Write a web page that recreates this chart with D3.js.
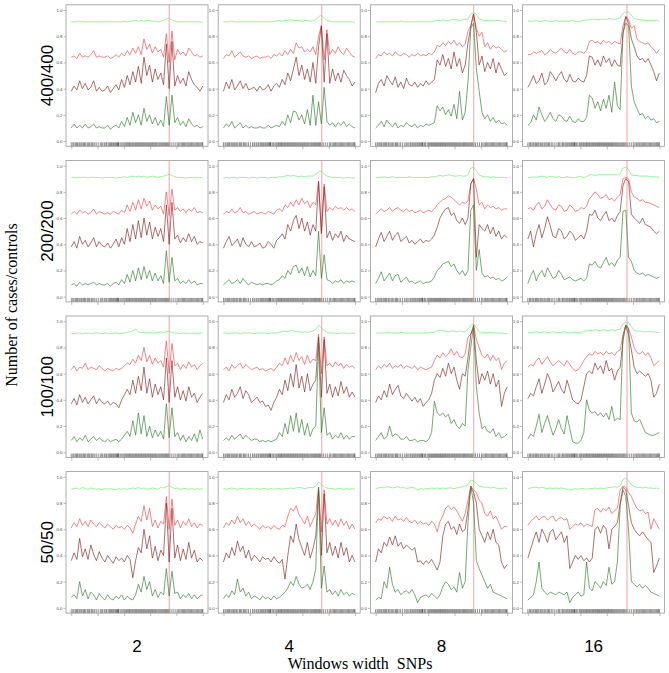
<!DOCTYPE html>
<html>
<head>
<meta charset="utf-8">
<script src="https://cdn.jsdelivr.net/npm/d3@7"></script>
<style>
  body { margin: 0; background: #fff; }
</style>
</head>
<body>
<div id="chart"></div>
<script>
// rows = cases/controls, columns = window width in SNPs
const rowLabels = ["400/400", "200/200", "100/100", "50/50"];
const colLabels = ["2", "4", "8", "16"];
const yTicks = [0, 0.2, 0.4, 0.6, 0.8, 1.0];
const xTicks = [0, 0.2, 0.4, 0.6, 0.8, 1.0];
// position of the causal SNP (vertical line), one per column
const peakPos = [0.745, 0.748, 0.746, 0.754];

// SNP positions for the rug (relative position along the region)
const snpPos = [0.000,0.012,0.020,0.031,0.040,0.047,0.058,0.066,0.075,0.083,0.094,0.101,0.110,0.122,0.130,0.139,0.151,0.158,0.166,0.178,0.190,0.205,0.221,0.232,0.240,0.252,0.263,0.270,0.281,0.290,0.298,0.306,0.315,0.322,0.331,0.338,0.345,0.352,0.356,0.360,0.371,0.380,0.392,0.401,0.409,0.418,0.425,0.433,0.441,0.447,0.455,0.463,0.470,0.478,0.486,0.493,0.500,0.508,0.515,0.523,0.530,0.537,0.545,0.552,0.560,0.567,0.575,0.583,0.590,0.598,0.605,0.613,0.620,0.628,0.636,0.643,0.651,0.660,0.668,0.676,0.684,0.692,0.700,0.708,0.716,0.724,0.731,0.739,0.748,0.760,0.775,0.790,0.805,0.815,0.826,0.836,0.845,0.853,0.862,0.871,0.880,0.889,0.897,0.906,0.915,0.924,0.933,0.942,0.951,0.960,0.969,0.978,0.987,0.995,1.000];

// ---- 400/400 ----
const lg_400_2 = [0.91,0.91,0.91,0.915,0.91,0.91,0.91,0.91,0.91,0.91,0.91,0.91,0.91,0.91,0.91,0.91,0.91,0.91,0.91,0.915,0.91,0.915,0.915,0.92,0.915,0.92,0.915,0.92,0.92,0.915,0.915,0.91,0.915,0.92,0.93,0.94,0.925,0.915,0.91,0.91,0.91,0.91,0.91,0.91,0.91,0.91,0.91,0.905];
const rd_400_2 = [0.64,0.65,0.63,0.67,0.64,0.65,0.64,0.66,0.69,0.64,0.65,0.64,0.64,0.65,0.63,0.64,0.66,0.64,0.67,0.65,0.69,0.66,0.71,0.67,0.72,0.66,0.78,0.7,0.74,0.67,0.72,0.68,0.7,0.64,0.82,0.6,0.84,0.62,0.7,0.66,0.68,0.65,0.71,0.68,0.65,0.66,0.64,0.65];
const dr_400_2 = [0.38,0.42,0.39,0.46,0.4,0.44,0.39,0.41,0.46,0.38,0.41,0.38,0.39,0.42,0.37,0.4,0.43,0.39,0.47,0.41,0.5,0.43,0.53,0.45,0.57,0.44,0.64,0.5,0.58,0.45,0.55,0.47,0.52,0.43,0.74,0.4,0.76,0.42,0.5,0.44,0.48,0.42,0.53,0.47,0.43,0.41,0.38,0.42];
const dg_400_2 = [0.1,0.13,0.1,0.12,0.1,0.13,0.1,0.11,0.13,0.1,0.11,0.1,0.1,0.12,0.09,0.11,0.12,0.1,0.15,0.11,0.18,0.12,0.22,0.14,0.2,0.12,0.25,0.15,0.2,0.13,0.18,0.12,0.16,0.11,0.34,0.12,0.35,0.14,0.18,0.12,0.15,0.11,0.17,0.13,0.11,0.12,0.1,0.11];

const lg_400_4 = [0.91,0.91,0.91,0.915,0.91,0.91,0.91,0.91,0.91,0.91,0.91,0.91,0.91,0.91,0.91,0.91,0.91,0.91,0.915,0.915,0.92,0.915,0.92,0.92,0.925,0.92,0.92,0.92,0.915,0.92,0.92,0.915,0.92,0.925,0.95,0.96,0.94,0.92,0.915,0.91,0.91,0.91,0.91,0.91,0.91,0.91,0.91,0.905];
const rd_400_4 = [0.63,0.66,0.65,0.69,0.64,0.66,0.68,0.65,0.64,0.65,0.63,0.64,0.65,0.63,0.64,0.64,0.65,0.63,0.66,0.65,0.67,0.65,0.69,0.66,0.7,0.67,0.75,0.71,0.72,0.68,0.7,0.68,0.72,0.66,0.8,0.88,0.62,0.85,0.66,0.7,0.67,0.72,0.68,0.66,0.71,0.68,0.65,0.64];
const dr_400_4 = [0.38,0.45,0.4,0.47,0.39,0.42,0.46,0.4,0.44,0.39,0.4,0.41,0.38,0.42,0.39,0.4,0.43,0.38,0.42,0.44,0.41,0.47,0.43,0.52,0.46,0.55,0.64,0.5,0.58,0.47,0.55,0.45,0.6,0.44,0.72,0.88,0.45,0.82,0.44,0.55,0.46,0.52,0.45,0.54,0.5,0.47,0.42,0.45];
const dg_400_4 = [0.1,0.13,0.11,0.15,0.1,0.12,0.14,0.1,0.12,0.1,0.11,0.1,0.1,0.11,0.1,0.1,0.12,0.1,0.11,0.12,0.11,0.15,0.12,0.2,0.14,0.23,0.22,0.16,0.2,0.13,0.24,0.12,0.35,0.12,0.3,0.13,0.41,0.15,0.12,0.14,0.11,0.14,0.12,0.15,0.11,0.13,0.11,0.1];

const lg_400_8 = [0.91,0.91,0.91,0.91,0.91,0.91,0.91,0.91,0.91,0.915,0.91,0.91,0.91,0.91,0.91,0.91,0.91,0.91,0.91,0.91,0.91,0.915,0.92,0.92,0.925,0.92,0.92,0.925,0.93,0.925,0.92,0.925,0.93,0.93,0.97,0.98,0.97,0.93,0.925,0.92,0.92,0.92,0.915,0.92,0.92,0.915,0.915,0.91];
const rd_400_8 = [0.63,0.66,0.65,0.68,0.66,0.67,0.65,0.68,0.66,0.65,0.67,0.66,0.64,0.66,0.65,0.67,0.65,0.66,0.65,0.67,0.66,0.68,0.73,0.72,0.75,0.73,0.76,0.74,0.77,0.73,0.75,0.72,0.74,0.84,0.88,0.97,0.86,0.8,0.83,0.72,0.75,0.7,0.73,0.71,0.72,0.7,0.68,0.69];
const dr_400_8 = [0.37,0.44,0.47,0.42,0.5,0.46,0.43,0.49,0.41,0.45,0.4,0.48,0.43,0.42,0.45,0.41,0.44,0.42,0.46,0.43,0.45,0.47,0.62,0.58,0.66,0.57,0.63,0.55,0.68,0.57,0.63,0.52,0.58,0.75,0.87,0.97,0.83,0.58,0.65,0.53,0.6,0.55,0.63,0.52,0.6,0.55,0.5,0.52];
const dg_400_8 = [0.1,0.12,0.15,0.11,0.16,0.13,0.11,0.14,0.1,0.12,0.11,0.14,0.12,0.11,0.13,0.1,0.12,0.11,0.13,0.12,0.13,0.14,0.27,0.23,0.26,0.2,0.24,0.19,0.28,0.17,0.38,0.16,0.22,0.45,0.86,0.9,0.55,0.38,0.22,0.17,0.2,0.15,0.18,0.14,0.16,0.13,0.14,0.12];

const lg_400_16 = [0.915,0.915,0.915,0.92,0.915,0.915,0.92,0.915,0.915,0.915,0.92,0.915,0.915,0.915,0.915,0.915,0.92,0.915,0.915,0.915,0.92,0.925,0.925,0.93,0.93,0.925,0.93,0.93,0.93,0.935,0.93,0.93,0.935,0.94,0.975,0.985,0.985,0.96,0.935,0.93,0.925,0.925,0.92,0.92,0.92,0.92,0.92,0.915];
const rd_400_16 = [0.66,0.66,0.68,0.67,0.68,0.69,0.66,0.67,0.7,0.68,0.67,0.69,0.71,0.68,0.67,0.7,0.67,0.66,0.68,0.68,0.67,0.69,0.76,0.77,0.75,0.76,0.74,0.77,0.75,0.76,0.74,0.76,0.75,0.74,0.88,0.95,0.93,0.86,0.88,0.78,0.76,0.75,0.74,0.75,0.72,0.7,0.67,0.7];
const dr_400_16 = [0.41,0.45,0.5,0.44,0.46,0.52,0.43,0.45,0.53,0.5,0.46,0.5,0.53,0.47,0.45,0.51,0.46,0.45,0.48,0.46,0.45,0.5,0.65,0.64,0.58,0.62,0.57,0.65,0.6,0.63,0.57,0.62,0.58,0.57,0.82,0.95,0.9,0.78,0.72,0.65,0.62,0.63,0.6,0.63,0.58,0.53,0.46,0.52];
const dg_400_16 = [0.12,0.14,0.2,0.16,0.26,0.2,0.15,0.18,0.22,0.17,0.15,0.2,0.19,0.16,0.15,0.19,0.15,0.14,0.17,0.15,0.15,0.18,0.35,0.33,0.25,0.3,0.23,0.32,0.25,0.35,0.22,0.45,0.27,0.24,0.82,0.9,0.88,0.42,0.3,0.25,0.2,0.21,0.17,0.19,0.16,0.17,0.14,0.15];

// ---- 200/200 ----
const lg_200_2 = [0.91,0.91,0.905,0.91,0.91,0.91,0.905,0.91,0.91,0.91,0.91,0.905,0.91,0.91,0.91,0.91,0.905,0.91,0.91,0.915,0.91,0.915,0.92,0.915,0.92,0.915,0.92,0.91,0.915,0.92,0.915,0.91,0.915,0.92,0.925,0.935,0.925,0.915,0.91,0.91,0.91,0.905,0.91,0.91,0.91,0.905,0.91,0.905];
const rd_200_2 = [0.63,0.65,0.63,0.66,0.64,0.65,0.63,0.64,0.67,0.63,0.65,0.64,0.63,0.64,0.63,0.65,0.64,0.63,0.66,0.64,0.7,0.65,0.72,0.66,0.74,0.67,0.75,0.69,0.73,0.66,0.7,0.67,0.69,0.63,0.8,0.62,0.82,0.66,0.68,0.65,0.67,0.64,0.67,0.65,0.68,0.64,0.65,0.64];
const dr_200_2 = [0.38,0.42,0.37,0.46,0.4,0.43,0.38,0.41,0.45,0.38,0.42,0.39,0.38,0.41,0.37,0.4,0.44,0.38,0.45,0.4,0.52,0.42,0.55,0.44,0.58,0.45,0.6,0.47,0.57,0.44,0.53,0.46,0.52,0.42,0.7,0.4,0.72,0.44,0.47,0.41,0.45,0.42,0.48,0.42,0.46,0.4,0.42,0.41];
const dg_200_2 = [0.09,0.1,0.08,0.11,0.09,0.1,0.09,0.1,0.11,0.09,0.1,0.09,0.09,0.1,0.08,0.1,0.11,0.09,0.13,0.1,0.17,0.11,0.2,0.12,0.22,0.13,0.23,0.14,0.2,0.12,0.18,0.12,0.16,0.1,0.35,0.11,0.3,0.12,0.14,0.1,0.12,0.1,0.13,0.1,0.12,0.09,0.1,0.1];

const lg_200_4 = [0.905,0.91,0.905,0.91,0.91,0.905,0.91,0.91,0.91,0.905,0.91,0.91,0.905,0.91,0.91,0.91,0.905,0.91,0.91,0.91,0.915,0.915,0.92,0.925,0.92,0.925,0.92,0.915,0.92,0.915,0.92,0.92,0.92,0.935,0.95,0.96,0.935,0.92,0.915,0.91,0.91,0.91,0.91,0.905,0.91,0.91,0.905,0.905];
const rd_200_4 = [0.63,0.65,0.64,0.67,0.64,0.65,0.68,0.64,0.65,0.63,0.64,0.65,0.63,0.64,0.64,0.63,0.65,0.64,0.63,0.66,0.67,0.65,0.7,0.68,0.72,0.69,0.74,0.7,0.75,0.71,0.73,0.68,0.72,0.7,0.88,0.5,0.86,0.65,0.68,0.66,0.69,0.67,0.68,0.66,0.68,0.66,0.67,0.65];
const dr_200_4 = [0.37,0.42,0.46,0.39,0.41,0.44,0.38,0.45,0.4,0.38,0.42,0.38,0.39,0.41,0.37,0.38,0.42,0.4,0.37,0.43,0.45,0.48,0.44,0.55,0.5,0.58,0.62,0.52,0.6,0.5,0.57,0.47,0.55,0.5,0.88,0.48,0.84,0.45,0.5,0.43,0.48,0.45,0.5,0.42,0.47,0.44,0.43,0.42];
const dg_200_4 = [0.09,0.11,0.13,0.1,0.11,0.13,0.1,0.14,0.11,0.09,0.11,0.1,0.09,0.1,0.09,0.1,0.1,0.09,0.1,0.12,0.13,0.16,0.14,0.2,0.17,0.23,0.24,0.18,0.22,0.16,0.23,0.15,0.2,0.16,0.5,0.14,0.32,0.13,0.12,0.1,0.12,0.11,0.13,0.1,0.12,0.11,0.12,0.11];

const lg_200_8 = [0.91,0.91,0.91,0.915,0.91,0.91,0.915,0.91,0.91,0.91,0.91,0.91,0.915,0.91,0.91,0.91,0.91,0.91,0.91,0.91,0.915,0.915,0.92,0.925,0.92,0.925,0.93,0.925,0.92,0.92,0.925,0.92,0.92,0.93,0.98,0.99,0.96,0.93,0.92,0.915,0.915,0.91,0.915,0.91,0.91,0.91,0.91,0.905];
const rd_200_8 = [0.63,0.65,0.67,0.65,0.66,0.68,0.65,0.67,0.68,0.66,0.65,0.67,0.65,0.66,0.64,0.65,0.66,0.64,0.65,0.66,0.65,0.67,0.7,0.72,0.74,0.75,0.77,0.76,0.74,0.72,0.7,0.72,0.71,0.73,0.86,0.9,0.82,0.7,0.72,0.67,0.7,0.68,0.69,0.67,0.68,0.66,0.67,0.67];
const dr_200_8 = [0.38,0.44,0.49,0.42,0.46,0.5,0.43,0.47,0.49,0.42,0.44,0.46,0.41,0.43,0.4,0.42,0.44,0.41,0.43,0.42,0.44,0.47,0.53,0.6,0.64,0.67,0.68,0.62,0.64,0.58,0.56,0.6,0.55,0.6,0.86,0.9,0.3,0.55,0.52,0.5,0.55,0.48,0.53,0.46,0.5,0.44,0.47,0.45];
const dg_200_8 = [0.1,0.14,0.19,0.12,0.15,0.18,0.12,0.16,0.17,0.11,0.13,0.15,0.11,0.12,0.1,0.11,0.12,0.1,0.11,0.11,0.12,0.15,0.2,0.22,0.25,0.26,0.27,0.23,0.25,0.2,0.17,0.2,0.16,0.2,0.66,0.7,0.2,0.36,0.18,0.15,0.16,0.14,0.15,0.13,0.14,0.12,0.13,0.15];

const lg_200_16 = [0.91,0.91,0.915,0.91,0.915,0.92,0.915,0.91,0.92,0.915,0.91,0.915,0.91,0.91,0.915,0.91,0.91,0.91,0.915,0.915,0.91,0.915,0.93,0.93,0.925,0.93,0.93,0.935,0.93,0.93,0.935,0.93,0.93,0.94,0.98,0.99,0.97,0.93,0.925,0.925,0.92,0.92,0.92,0.92,0.915,0.915,0.915,0.91];
const rd_200_16 = [0.67,0.68,0.66,0.7,0.72,0.67,0.69,0.74,0.7,0.67,0.66,0.7,0.69,0.65,0.66,0.7,0.68,0.65,0.66,0.68,0.67,0.69,0.75,0.77,0.8,0.78,0.75,0.76,0.78,0.74,0.75,0.73,0.76,0.78,0.9,0.91,0.9,0.8,0.76,0.75,0.73,0.74,0.72,0.72,0.71,0.7,0.69,0.68];
const dr_200_16 = [0.44,0.5,0.38,0.48,0.55,0.45,0.52,0.61,0.54,0.46,0.45,0.52,0.5,0.44,0.46,0.5,0.48,0.43,0.45,0.47,0.44,0.5,0.63,0.62,0.66,0.6,0.58,0.62,0.65,0.58,0.6,0.57,0.62,0.65,0.85,0.9,0.88,0.63,0.6,0.58,0.56,0.6,0.55,0.54,0.53,0.5,0.48,0.5];
const dg_200_16 = [0.1,0.16,0.2,0.12,0.17,0.2,0.15,0.22,0.18,0.14,0.15,0.2,0.17,0.13,0.14,0.15,0.13,0.12,0.13,0.14,0.12,0.14,0.25,0.24,0.27,0.23,0.22,0.26,0.3,0.24,0.26,0.23,0.28,0.3,0.65,0.66,0.3,0.27,0.2,0.18,0.17,0.18,0.16,0.17,0.16,0.15,0.14,0.15];

// ---- 100/100 ----
const lg_100_2 = [0.91,0.905,0.91,0.91,0.905,0.91,0.91,0.905,0.91,0.91,0.91,0.905,0.91,0.91,0.905,0.91,0.91,0.905,0.91,0.91,0.915,0.92,0.925,0.94,0.92,0.915,0.915,0.91,0.915,0.91,0.91,0.915,0.92,0.915,0.92,0.925,0.915,0.91,0.91,0.905,0.91,0.91,0.905,0.91,0.91,0.905,0.91,0.91];
const rd_100_2 = [0.63,0.66,0.62,0.65,0.64,0.68,0.63,0.65,0.64,0.63,0.66,0.64,0.62,0.64,0.63,0.62,0.64,0.63,0.64,0.66,0.68,0.67,0.71,0.68,0.74,0.7,0.8,0.69,0.74,0.67,0.72,0.68,0.7,0.65,0.85,0.6,0.83,0.66,0.68,0.63,0.67,0.64,0.69,0.65,0.67,0.63,0.66,0.68];
const dr_100_2 = [0.37,0.41,0.36,0.44,0.38,0.42,0.37,0.4,0.43,0.37,0.41,0.38,0.37,0.39,0.36,0.38,0.37,0.34,0.4,0.44,0.48,0.44,0.55,0.45,0.58,0.47,0.65,0.45,0.56,0.42,0.52,0.44,0.5,0.4,0.72,0.38,0.7,0.42,0.5,0.4,0.47,0.39,0.5,0.42,0.45,0.38,0.42,0.45];
const dg_100_2 = [0.09,0.12,0.08,0.11,0.09,0.13,0.08,0.1,0.12,0.09,0.11,0.09,0.08,0.1,0.08,0.09,0.1,0.08,0.1,0.13,0.16,0.12,0.24,0.13,0.3,0.14,0.28,0.12,0.2,0.11,0.17,0.12,0.16,0.1,0.37,0.11,0.34,0.12,0.15,0.09,0.13,0.08,0.12,0.09,0.14,0.08,0.17,0.1];

const lg_100_4 = [0.91,0.91,0.905,0.91,0.91,0.91,0.905,0.91,0.91,0.91,0.91,0.905,0.91,0.91,0.91,0.91,0.905,0.91,0.91,0.91,0.915,0.92,0.925,0.92,0.93,0.925,0.92,0.92,0.915,0.92,0.915,0.92,0.925,0.94,0.97,0.95,0.93,0.915,0.91,0.91,0.91,0.905,0.91,0.91,0.91,0.905,0.91,0.905];
const rd_100_4 = [0.63,0.65,0.62,0.67,0.64,0.66,0.68,0.64,0.67,0.65,0.63,0.64,0.65,0.63,0.64,0.62,0.63,0.64,0.62,0.65,0.68,0.66,0.72,0.67,0.74,0.69,0.76,0.7,0.73,0.67,0.74,0.68,0.71,0.7,0.9,0.6,0.88,0.66,0.68,0.65,0.69,0.66,0.68,0.64,0.67,0.65,0.66,0.64];
const dr_100_4 = [0.38,0.44,0.4,0.48,0.42,0.45,0.5,0.41,0.47,0.44,0.38,0.4,0.42,0.38,0.39,0.35,0.36,0.32,0.38,0.42,0.48,0.44,0.55,0.47,0.6,0.5,0.67,0.49,0.58,0.46,0.6,0.47,0.52,0.55,0.88,0.42,0.86,0.45,0.52,0.42,0.5,0.43,0.54,0.45,0.5,0.42,0.46,0.42];
const dg_100_4 = [0.09,0.11,0.09,0.13,0.1,0.12,0.14,0.1,0.13,0.11,0.09,0.1,0.1,0.08,0.09,0.08,0.09,0.08,0.09,0.1,0.15,0.12,0.22,0.14,0.28,0.16,0.3,0.15,0.25,0.13,0.22,0.12,0.18,0.2,0.83,0.15,0.34,0.13,0.15,0.1,0.13,0.11,0.15,0.1,0.13,0.1,0.12,0.12];

const lg_100_8 = [0.91,0.91,0.91,0.91,0.915,0.91,0.91,0.91,0.91,0.915,0.91,0.91,0.91,0.91,0.91,0.91,0.91,0.91,0.91,0.91,0.915,0.915,0.93,0.93,0.925,0.925,0.92,0.925,0.925,0.92,0.925,0.92,0.92,0.94,0.97,0.98,0.95,0.92,0.915,0.915,0.91,0.915,0.91,0.91,0.91,0.91,0.905,0.905];
const rd_100_8 = [0.63,0.66,0.64,0.67,0.65,0.68,0.64,0.66,0.65,0.67,0.64,0.66,0.65,0.64,0.66,0.63,0.65,0.64,0.63,0.64,0.65,0.7,0.74,0.72,0.76,0.73,0.75,0.79,0.74,0.77,0.73,0.72,0.75,0.88,0.9,0.97,0.86,0.8,0.74,0.72,0.75,0.7,0.74,0.7,0.72,0.63,0.68,0.7];
const dr_100_8 = [0.38,0.43,0.4,0.47,0.42,0.52,0.44,0.48,0.51,0.43,0.41,0.45,0.42,0.39,0.42,0.38,0.41,0.35,0.38,0.4,0.45,0.55,0.6,0.57,0.64,0.58,0.68,0.6,0.65,0.55,0.48,0.6,0.58,0.72,0.9,0.95,0.7,0.52,0.6,0.55,0.62,0.52,0.6,0.5,0.55,0.35,0.45,0.5];
const dg_100_8 = [0.09,0.12,0.15,0.1,0.12,0.2,0.12,0.14,0.13,0.1,0.1,0.12,0.09,0.09,0.1,0.08,0.09,0.09,0.08,0.1,0.15,0.39,0.3,0.28,0.3,0.27,0.29,0.22,0.25,0.2,0.18,0.22,0.2,0.63,0.8,0.97,0.5,0.3,0.18,0.2,0.16,0.15,0.18,0.12,0.15,0.11,0.12,0.14];

const lg_100_16 = [0.915,0.915,0.915,0.92,0.915,0.915,0.92,0.915,0.915,0.92,0.915,0.915,0.915,0.92,0.915,0.91,0.915,0.915,0.915,0.915,0.92,0.93,0.93,0.93,0.935,0.93,0.93,0.935,0.93,0.93,0.935,0.93,0.935,0.94,0.98,0.99,0.99,0.96,0.93,0.925,0.925,0.92,0.92,0.92,0.92,0.92,0.915,0.915];
const rd_100_16 = [0.65,0.67,0.66,0.7,0.72,0.67,0.7,0.73,0.69,0.66,0.68,0.7,0.68,0.66,0.7,0.67,0.64,0.62,0.63,0.66,0.7,0.73,0.75,0.74,0.77,0.75,0.76,0.74,0.77,0.75,0.76,0.74,0.77,0.78,0.9,0.97,0.94,0.88,0.8,0.76,0.75,0.77,0.74,0.76,0.72,0.66,0.68,0.7];
const dr_100_16 = [0.41,0.45,0.43,0.5,0.56,0.45,0.52,0.6,0.55,0.46,0.5,0.54,0.48,0.45,0.55,0.48,0.4,0.38,0.37,0.4,0.5,0.6,0.62,0.6,0.68,0.63,0.66,0.6,0.7,0.62,0.64,0.55,0.62,0.65,0.85,0.97,0.9,0.78,0.65,0.6,0.62,0.6,0.58,0.6,0.55,0.42,0.45,0.52];
const dg_100_16 = [0.1,0.14,0.12,0.2,0.29,0.15,0.22,0.28,0.2,0.13,0.18,0.25,0.18,0.14,0.28,0.18,0.08,0.07,0.07,0.09,0.15,0.4,0.32,0.3,0.31,0.28,0.3,0.27,0.3,0.25,0.35,0.24,0.26,0.25,0.88,0.97,0.95,0.3,0.24,0.23,0.25,0.2,0.15,0.14,0.13,0.13,0.14,0.15];

// ---- 50/50 ----
const lg_50_2 = [0.905,0.91,0.915,0.905,0.92,0.91,0.905,0.915,0.91,0.905,0.91,0.9,0.91,0.905,0.91,0.905,0.9,0.91,0.905,0.91,0.905,0.91,0.915,0.91,0.92,0.91,0.915,0.905,0.91,0.915,0.91,0.905,0.92,0.915,0.925,0.935,0.92,0.91,0.915,0.905,0.91,0.91,0.905,0.91,0.905,0.91,0.905,0.91];
const rd_50_2 = [0.61,0.65,0.62,0.68,0.63,0.66,0.62,0.67,0.64,0.62,0.65,0.63,0.61,0.64,0.62,0.6,0.63,0.61,0.62,0.6,0.63,0.61,0.57,0.64,0.7,0.66,0.78,0.67,0.76,0.62,0.67,0.61,0.66,0.64,0.85,0.6,0.83,0.63,0.67,0.61,0.66,0.63,0.68,0.62,0.65,0.61,0.64,0.63];
const dr_50_2 = [0.36,0.42,0.37,0.53,0.39,0.45,0.37,0.48,0.41,0.36,0.43,0.38,0.35,0.4,0.37,0.34,0.39,0.36,0.38,0.35,0.4,0.37,0.23,0.36,0.46,0.42,0.6,0.45,0.55,0.38,0.47,0.36,0.44,0.4,0.8,0.35,0.76,0.38,0.48,0.36,0.45,0.37,0.5,0.38,0.44,0.35,0.38,0.36];
const dg_50_2 = [0.08,0.1,0.07,0.2,0.09,0.14,0.07,0.12,0.1,0.06,0.11,0.08,0.06,0.1,0.07,0.06,0.09,0.07,0.1,0.06,0.09,0.07,0.06,0.1,0.18,0.12,0.24,0.14,0.2,0.09,0.14,0.08,0.12,0.1,0.3,0.09,0.28,0.11,0.12,0.07,0.1,0.08,0.11,0.07,0.1,0.07,0.09,0.1];

const lg_50_4 = [0.91,0.905,0.91,0.915,0.91,0.905,0.91,0.91,0.905,0.91,0.91,0.905,0.91,0.905,0.91,0.91,0.905,0.91,0.905,0.91,0.91,0.905,0.91,0.91,0.915,0.91,0.915,0.92,0.915,0.91,0.915,0.92,0.915,0.93,0.96,0.94,0.925,0.915,0.91,0.91,0.905,0.91,0.91,0.905,0.91,0.905,0.91,0.905];
const rd_50_4 = [0.61,0.65,0.63,0.67,0.64,0.7,0.65,0.68,0.63,0.66,0.62,0.64,0.62,0.6,0.63,0.61,0.62,0.6,0.63,0.61,0.6,0.63,0.62,0.7,0.76,0.74,0.78,0.71,0.68,0.64,0.7,0.62,0.67,0.72,0.92,0.58,0.9,0.64,0.68,0.63,0.67,0.62,0.68,0.63,0.66,0.6,0.64,0.6];
const dr_50_4 = [0.35,0.42,0.38,0.46,0.4,0.51,0.43,0.47,0.38,0.44,0.36,0.4,0.38,0.35,0.39,0.37,0.38,0.35,0.39,0.36,0.34,0.37,0.22,0.4,0.55,0.5,0.64,0.52,0.46,0.4,0.5,0.38,0.45,0.55,0.9,0.4,0.87,0.42,0.5,0.4,0.47,0.38,0.5,0.4,0.46,0.35,0.4,0.35];
const dg_50_4 = [0.07,0.1,0.08,0.13,0.1,0.22,0.12,0.15,0.09,0.12,0.07,0.09,0.08,0.06,0.09,0.07,0.08,0.06,0.09,0.07,0.08,0.1,0.12,0.15,0.2,0.17,0.24,0.18,0.15,0.16,0.18,0.14,0.2,0.3,0.92,0.15,0.32,0.12,0.14,0.1,0.13,0.09,0.14,0.1,0.12,0.09,0.11,0.1];

const lg_50_8 = [0.91,0.915,0.92,0.915,0.925,0.92,0.915,0.92,0.925,0.915,0.92,0.91,0.915,0.92,0.915,0.9,0.91,0.905,0.91,0.91,0.915,0.91,0.915,0.91,0.915,0.91,0.915,0.915,0.91,0.915,0.92,0.925,0.93,0.94,0.975,0.97,0.95,0.93,0.925,0.92,0.92,0.915,0.92,0.915,0.91,0.91,0.915,0.91];
const rd_50_8 = [0.65,0.68,0.67,0.7,0.68,0.69,0.66,0.7,0.67,0.68,0.66,0.69,0.66,0.65,0.67,0.64,0.66,0.64,0.65,0.63,0.66,0.64,0.58,0.66,0.7,0.76,0.78,0.75,0.77,0.74,0.7,0.66,0.72,0.82,0.93,0.9,0.88,0.82,0.8,0.72,0.7,0.74,0.68,0.7,0.65,0.6,0.62,0.62];
const dr_50_8 = [0.35,0.45,0.42,0.5,0.47,0.54,0.48,0.55,0.47,0.5,0.45,0.48,0.46,0.44,0.46,0.35,0.36,0.33,0.36,0.34,0.37,0.33,0.29,0.35,0.55,0.64,0.66,0.6,0.62,0.56,0.64,0.58,0.6,0.75,0.92,0.88,0.8,0.6,0.55,0.5,0.58,0.52,0.6,0.5,0.48,0.35,0.3,0.33];
const dg_50_8 = [0.06,0.08,0.07,0.2,0.15,0.31,0.18,0.12,0.14,0.1,0.12,0.13,0.11,0.14,0.1,0.04,0.08,0.09,0.1,0.08,0.11,0.09,0.07,0.1,0.16,0.2,0.18,0.14,0.16,0.12,0.27,0.15,0.2,0.65,0.93,0.8,0.36,0.3,0.25,0.2,0.15,0.18,0.12,0.11,0.1,0.09,0.08,0.07];

const lg_50_16 = [0.91,0.915,0.92,0.92,0.915,0.92,0.915,0.91,0.915,0.91,0.915,0.91,0.915,0.91,0.905,0.9,0.905,0.91,0.905,0.91,0.91,0.905,0.91,0.91,0.915,0.91,0.915,0.91,0.915,0.92,0.92,0.925,0.92,0.93,0.98,0.99,0.97,0.94,0.925,0.92,0.92,0.915,0.92,0.915,0.915,0.91,0.915,0.91];
const rd_50_16 = [0.63,0.66,0.68,0.7,0.67,0.69,0.7,0.67,0.69,0.7,0.66,0.68,0.69,0.67,0.68,0.6,0.62,0.64,0.63,0.65,0.62,0.64,0.63,0.62,0.75,0.76,0.73,0.76,0.74,0.77,0.72,0.74,0.76,0.9,0.93,0.92,0.88,0.85,0.8,0.76,0.74,0.75,0.72,0.73,0.6,0.68,0.64,0.6];
const dr_50_16 = [0.38,0.45,0.52,0.58,0.5,0.6,0.56,0.5,0.58,0.6,0.52,0.55,0.58,0.5,0.55,0.3,0.35,0.4,0.37,0.4,0.36,0.38,0.35,0.38,0.6,0.62,0.57,0.63,0.6,0.45,0.6,0.62,0.65,0.8,0.92,0.9,0.78,0.65,0.6,0.57,0.55,0.58,0.55,0.52,0.5,0.27,0.32,0.38];
const dg_50_16 = [0.06,0.08,0.1,0.2,0.35,0.15,0.12,0.1,0.12,0.11,0.1,0.12,0.11,0.1,0.12,0.04,0.08,0.1,0.12,0.09,0.1,0.35,0.15,0.13,0.2,0.18,0.15,0.2,0.17,0.31,0.18,0.2,0.35,0.78,0.9,0.85,0.6,0.2,0.18,0.16,0.18,0.15,0.17,0.15,0.12,0.11,0.1,0.09];

// series table built from the arrays above: [row][col] -> 4 series
const grid = [
  [[lg_400_2, rd_400_2, dr_400_2, dg_400_2], [lg_400_4, rd_400_4, dr_400_4, dg_400_4], [lg_400_8, rd_400_8, dr_400_8, dg_400_8], [lg_400_16, rd_400_16, dr_400_16, dg_400_16]],
  [[lg_200_2, rd_200_2, dr_200_2, dg_200_2], [lg_200_4, rd_200_4, dr_200_4, dg_200_4], [lg_200_8, rd_200_8, dr_200_8, dg_200_8], [lg_200_16, rd_200_16, dr_200_16, dg_200_16]],
  [[lg_100_2, rd_100_2, dr_100_2, dg_100_2], [lg_100_4, rd_100_4, dr_100_4, dg_100_4], [lg_100_8, rd_100_8, dr_100_8, dg_100_8], [lg_100_16, rd_100_16, dr_100_16, dg_100_16]],
  [[lg_50_2, rd_50_2, dr_50_2, dg_50_2], [lg_50_4, rd_50_4, dr_50_4, dg_50_4], [lg_50_8, rd_50_8, dr_50_8, dg_50_8], [lg_50_16, rd_50_16, dr_50_16, dg_50_16]]
];
const seriesColors = ["#62ee62", "#ee4646", "#82201f", "#2c7a2c"];

// layout
const W = 669, H = 673;
const boxW = 142, boxH = 141.5;
const colX = [66, 218.2, 370.4, 522.6];
const rowY = [4.8, 160.4, 316, 471.6];

const svg = d3.select("#chart").append("svg")
    .attr("width", W)
    .attr("height", H)
    .style("font-family", "'Liberation Sans', Arial, sans-serif");

const x = d3.scaleLinear().domain([-0.04, 1.04]).range([0, boxW]);
const y = d3.scaleLinear().domain([-0.04, 1.04]).range([boxH, 0]);

grid.forEach((row, r) => {
    row.forEach((series, c) => {
        const g = svg.append("g")
            .attr("transform", `translate(${colX[c]},${rowY[r]})`);

        // y axis with small labels
        const ya = g.append("g")
            .call(d3.axisLeft(y).tickValues(yTicks).tickSize(2.5).tickSizeOuter(0).tickPadding(1.2)
                .tickFormat(d3.format(".1f")));
        ya.selectAll("text").attr("font-size", 4.2).attr("fill", "#444");
        ya.selectAll("line").attr("stroke", "#777").attr("stroke-width", 0.5);
        ya.select(".domain").remove();

        // x axis ticks, no labels
        const xa = g.append("g")
            .attr("transform", `translate(0,${boxH})`)
            .call(d3.axisBottom(x).tickValues(xTicks).tickSize(3).tickSizeOuter(0).tickFormat(""));
        xa.selectAll("line").attr("stroke", "#777").attr("stroke-width", 0.5);
        xa.select(".domain").remove();

        // rug of SNP positions
        g.append("g").selectAll("line")
            .data(snpPos)
            .enter().append("line")
            .attr("x1", d => x(d)).attr("x2", d => x(d))
            .attr("y1", boxH).attr("y2", boxH - 4)
            .attr("stroke", "#000")
            .attr("stroke-opacity", 0.75)
            .attr("stroke-width", 0.6);

        // causal SNP marker
        g.append("line")
            .attr("x1", x(peakPos[c])).attr("x2", x(peakPos[c]))
            .attr("y1", 0).attr("y2", boxH)
            .attr("stroke", "#f08a8a")
            .attr("stroke-width", 0.8);

        // series lines
        series.forEach((vals, k) => {
            const line = d3.line()
                .x((d, i) => x(i / (vals.length - 1)))
                .y(d => y(d));
            g.append("path")
                .datum(vals)
                .attr("d", line)
                .attr("fill", "none")
                .attr("stroke", seriesColors[k])
                .attr("stroke-width", 0.65);
        });

        // panel box
        g.append("rect")
            .attr("width", boxW).attr("height", boxH)
            .attr("fill", "none")
            .attr("stroke", "#9a9a9a")
            .attr("stroke-width", 0.8);
    });
});

// row labels
svg.selectAll(".rowlab")
    .data(rowLabels)
    .enter().append("text")
    .attr("transform", (d, i) => `translate(53,${rowY[i] + boxH / 2}) rotate(-90)`)
    .attr("text-anchor", "middle")
    .attr("font-size", 17)
    .text(d => d);

// column labels
svg.selectAll(".collab")
    .data(colLabels)
    .enter().append("text")
    .attr("x", (d, i) => colX[i] + boxW / 2)
    .attr("y", 652)
    .attr("text-anchor", "middle")
    .attr("font-size", 17)
    .text(d => d);

// outer titles
svg.append("text")
    .attr("x", 360)
    .attr("y", 669)
    .attr("text-anchor", "middle")
    .attr("font-family", "'Liberation Serif', 'Times New Roman', serif")
    .attr("font-size", 16)
    .attr("xml:space", "preserve")
    .text("Windows width  SNPs");

svg.append("text")
    .attr("transform", `translate(17,305) rotate(-90)`)
    .attr("text-anchor", "middle")
    .attr("font-family", "'Liberation Serif', 'Times New Roman', serif")
    .attr("font-size", 16)
    .text("Number of cases/controls");
</script>
</body>
</html>
